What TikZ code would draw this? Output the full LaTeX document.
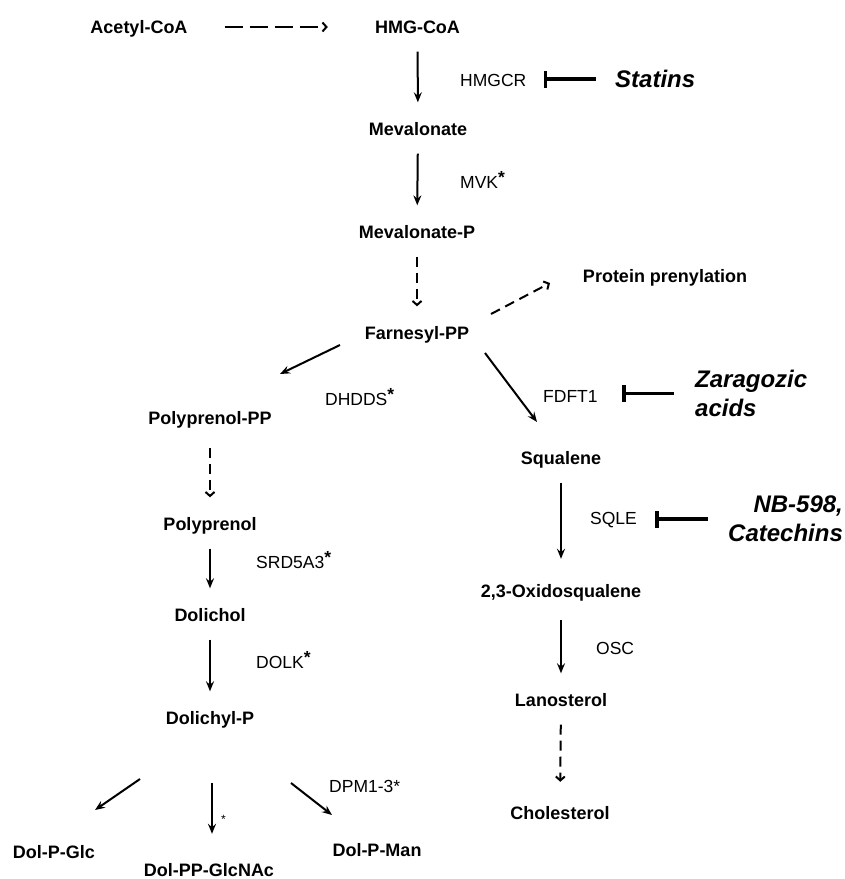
\documentclass[tikz,border=0pt]{standalone}
\usepackage{fontspec}
\setmainfont{Liberation Sans}
\usetikzlibrary{arrows.meta}

\newcommand\enzstar{\raisebox{5pt}{\bfseries *}}

\tikzset{
  met/.style={font=\fontsize{18}{21}\selectfont\bfseries,
    inner sep=0pt, text height=13pt, text depth=0pt},
  enz/.style={font=\fontsize{17.5}{21}\selectfont,
    inner sep=0pt, text height=12.5pt, text depth=0pt, anchor=west},
  drug/.style={font=\fontsize{24}{29}\selectfont\bfseries\itshape,
    inner sep=0pt, align=left, anchor=west},
  flow/.style={line width=2pt,
    -{Stealth[length=10pt,width=8pt,inset=3.5pt]},
    shorten <=18pt, shorten >=20pt},
  maybe/.style={line width=2pt, dash pattern=on 10pt off 6pt,
    -{Straight Barb[length=4pt,width=9pt]},
    shorten <=18pt, shorten >=20pt},
  inhibit/.style={line width=3.8pt, -{Bar[width=17pt]}},
}

\begin{document}
\begin{tikzpicture}[x=1pt,y=-1pt]
  \useasboundingbox (0,0) rectangle (845,879);

  % mevalonate pathway
  \node [met] (acetyl) at (139,27) {Acetyl-CoA};
  \node [met] (hmg) at (417.5,27) {HMG-CoA};
  \node [met] (meva) at (418,129) {Mevalonate};
  \node [met] (mevap) at (417,232) {Mevalonate-P};
  \node [met] (farn) at (417,333) {Farnesyl-PP};
  \node [met] (prot) at (665,276) {Protein prenylation};

  % dolichol branch
  \node [met] (polypp) at (210,418) {Polyprenol-PP};
  \node [met] (polyp) at (210,524) {Polyprenol};
  \node [met] (dolichol) at (210,615) {Dolichol};
  \node [met] (dolp) at (210,718) {Dolichyl-P};
  \node [met] (dolpglc) at (54,852) {Dol-P-Glc};
  \node [met] (glcnac) at (209,870) {Dol-PP-GlcNAc};
  \node [met] (dolpman) at (377,850) {Dol-P-Man};

  % sterol branch
  \node [met] (squal) at (561,458) {Squalene};
  \node [met] (oxsq) at (561,591) {2,3-Oxidosqualene};
  \node [met] (lano) at (561,700) {Lanosterol};
  \node [met] (chol) at (560,813) {Cholesterol};

  % enzymes
  \node [enz] (hmgcr) at (460,80) {HMGCR};
  \node [enz] (mvk) at (460,182) {MVK\enzstar};
  \node [enz] (dhdds) at (325,399) {DHDDS\enzstar};
  \node [enz] (fdft) at (543,396) {FDFT1};
  \node [enz] (sqle) at (590,518) {SQLE};
  \node [enz] (osc) at (596,648) {OSC};
  \node [enz] (srd) at (256,562) {SRD5A3\enzstar};
  \node [enz] (dolk) at (256,662) {DOLK\enzstar};
  \node [enz] (dpm) at (329,786) {DPM1-3*};
  \node [enz, font=\fontsize{12}{14}\selectfont] (glcstar) at (221,817) {*};

  % inhibitors
  \node [drug] (statins) at (615,79) {Statins};
  \node [drug] (zara) at (695,393.5) {Zaragozic\\acids};
  \node [drug, align=right] (nb) at (728,519) {NB-598,\\Catechins};

  \draw [maybe, dash pattern=on 18pt off 7pt, shorten <=37pt, shorten >=47pt]
    (acetyl) -- (hmg)
  ;
  \draw [flow] (hmg) -- (meva);
  \draw [flow] (meva) -- (mevap);
  \draw [maybe] (mevap) -- (farn);
  \draw [maybe, shorten <=0pt, shorten >=0pt]
    ([shift={(74,-19)}]farn.center) -- ([shift={(-115,7)}]prot.center)
  ;
  \draw [flow, shorten <=0pt, shorten >=0pt]
    ([shift={(-77,12)}]farn.center) -- ([shift={(70,-44)}]polypp.center)
  ;
  \draw [flow, shorten <=0pt, shorten >=0pt]
    ([shift={(68,20)}]farn.center) -- ([shift={(-24,-36)}]squal.center)
  ;

  \draw [maybe, shorten <=23.5pt] (polypp) -- (polyp);
  \draw [flow] (polyp) -- (dolichol);
  \draw [flow] (dolichol) -- (dolp);
  \draw [flow, shorten <=58pt, shorten >=29.5pt]
    ([xshift=2pt]dolp.south) -- ([xshift=2pt]dolp.south |- glcnac.north)
  ;
  \draw [flow, shorten <=0pt, shorten >=0pt]
    ([shift={(-70,61)}]dolp.center) -- ([shift={(41,-42)}]dolpglc.center)
  ;
  \draw [flow, shorten <=0pt, shorten >=0pt]
    ([shift={(81,65)}]dolp.center) -- ([shift={(-45,-35)}]dolpman.center)
  ;

  \draw [flow, shorten >=25.5pt] (squal) -- (oxsq);
  \draw [flow, shorten <=22.5pt] (oxsq) -- (lano);
  \draw [maybe, shorten >=24.5pt] (lano) -- (chol);

  \draw [inhibit, shorten <=19pt, shorten >=17pt]
    (statins.west) -- (statins.west -| hmgcr.east)
  ;
  \draw [inhibit, shorten <=21pt, shorten >=24pt]
    (zara.west) -- (zara.west -| fdft.east)
  ;
  \draw [inhibit, shorten <=20pt, shorten >=18pt]
    (nb.west) -- (nb.west -| sqle.east)
  ;
\end{tikzpicture}
\end{document}
